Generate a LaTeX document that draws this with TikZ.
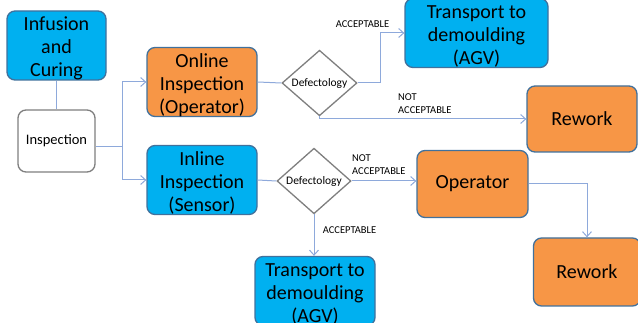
\documentclass[tikz,border=0pt]{standalone}
\usepackage{fontspec}
\setmainfont{Carlito}
\usetikzlibrary{arrows.meta,shapes.geometric}
\definecolor{boxblue}{HTML}{00B0F0}
\definecolor{boxorange}{HTML}{F79646}
\definecolor{edgeblue}{HTML}{41719C}
\definecolor{connblue}{HTML}{8EA9DB}
\definecolor{greyline}{HTML}{7F7F7F}
\newcommand{\threelines}[1]{\raisebox{-3.5pt}[\height][\depth]{\begin{tabular}{@{}c@{}}#1\end{tabular}}}
\tikzset{
  proc/.style={draw=edgeblue, line width=1.3pt, rounded corners=8pt, align=center,
    font=\fontsize{20}{23}\selectfont, inner sep=0pt},
  bluebox/.style={proc, fill=boxblue},
  orangebox/.style={proc, fill=boxorange},
  whitebox/.style={draw=greyline, line width=1.3pt, rounded corners=8pt, fill=white,
    font=\fontsize{14.5}{17}\selectfont, inner sep=0pt},
  decision/.style={diamond, draw=greyline, line width=1.3pt, fill=white, inner sep=0pt,
    font=\fontsize{11.5}{13}\selectfont},
  conn/.style={draw=connblue, line width=1pt},
  arr/.style={conn, -{Straight Barb[length=5pt,width=9pt]}},
  lab/.style={font=\fontsize{10.5}{13.5}\selectfont, inner sep=0pt, align=left}
}
\begin{document}
\begin{tikzpicture}[x=1pt,y=-1pt]
\useasboundingbox (0,0) rectangle (638,323);
\node[bluebox, minimum width=99pt, minimum height=67pt] (inf) at (56.5,45.5) {\threelines{Infusion\\and\\Curing}};
\node[whitebox, minimum width=77pt, minimum height=62pt] (insp) at (56.5,141) {Inspection};
\node[orangebox, minimum width=110pt, minimum height=68pt] (onl) at (202,82) {\threelines{Online\\Inspection\\(Operator)}};
\node[bluebox, minimum width=110pt, minimum height=67pt] (inl) at (202,180) {\threelines{Inline\\Inspection\\(Sensor)}};
\node[decision, minimum width=75pt, minimum height=63pt] (d1) at (319.5,83) {Defectology};
\node[decision, minimum width=74pt, minimum height=64pt] (d2) at (314,181) {Defectology};
\node[bluebox, minimum width=143pt, minimum height=68pt] (t1) at (476.5,33) {\threelines{Transport to\\demoulding\\(AGV)}};
\node[orangebox, minimum width=110pt, minimum height=66pt] (rw1) at (582,119) {Rework};
\node[orangebox, minimum width=111pt, minimum height=67pt] (op) at (472.5,184) {Operator};
\node[orangebox, minimum width=107pt, minimum height=68pt] (rw2) at (587,272) {Rework};
\node[bluebox, minimum width=120pt, minimum height=68pt] (t2) at (315,291) {\threelines{Transport to\\demoulding\\(AGV)}};
\coordinate (j) at (122,147);
\coordinate (k) at (380,83);
% connectors
\draw[conn] (inf.south) -- (insp.north);
\draw[conn] ([yshift=-6pt]insp.east) -- (j);
\draw[arr] (j) |- (onl.west);
\draw[arr] (j) |- (inl.west);
\draw[conn] (onl.east) -- (d1.west);
\draw[arr] (d1.east) -- (k) |- (t1.west);
\draw[arr] (d1.south) |- (rw1.west);
\draw[conn] (inl.east) -- (d2.west);
\draw[arr] (d2.east) -- (op.west |- d2.east);
\draw[arr] (d2.south) -- (d2.south |- t2.north);
\draw[arr] (op.east) -| (rw2.north);
% labels
\node[lab, anchor=center] (la1) at (362.5,24) {ACCEPTABLE};
\node[lab, anchor=west] (la2) at (398,103.5) {NOT\\ACCEPTABLE};
\node[lab, anchor=west] (la3) at (352,164.5) {NOT\\ACCEPTABLE};
\node[lab, anchor=center] (la4) at (349.5,230) {ACCEPTABLE};
\end{tikzpicture}
\end{document}
